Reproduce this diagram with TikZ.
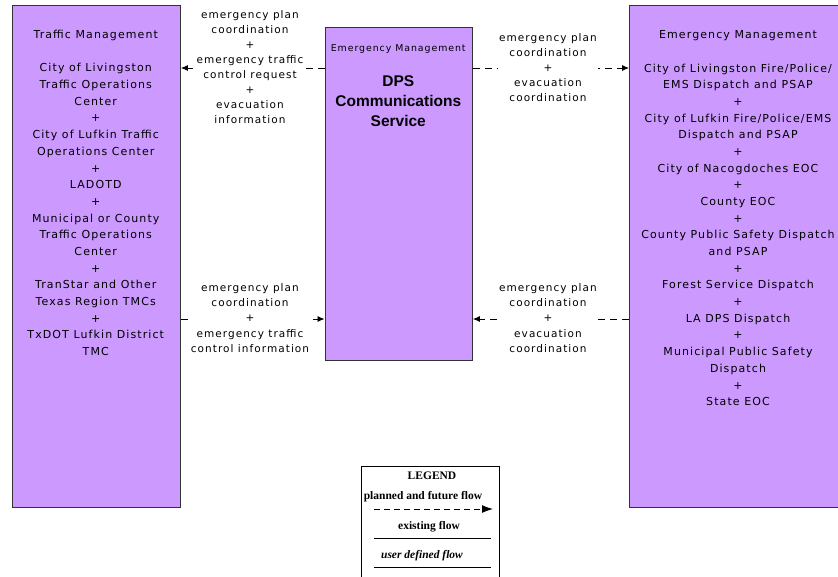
\documentclass[tikz,border=0pt]{standalone}
\usepackage{fontspec}
\setmainfont{DejaVu Sans}[LetterSpace=10]
\newfontfamily\boldsans{Liberation Sans}[FontFace={b}{n}{Liberation Sans Bold}]
\newfontfamily\legfont{Liberation Serif}
\usetikzlibrary{arrows.meta}
\definecolor{boxfill}{HTML}{CC99FF}
\definecolor{boxline}{HTML}{333333}
\begin{document}
\begin{tikzpicture}[x=1pt,y=-1pt,
  box/.style={draw=boxline, fill=boxfill, line width=0.9pt, inner sep=0pt, anchor=north west},
  boxtext/.style={align=center, inner sep=0pt, anchor=north, font=\fontsize{11}{16.68}\selectfont},
  flow/.style={line width=0.8pt, dash pattern=on 7pt off 5pt, -{Latex[length=7pt,width=6pt]}},
  lbl/.style={fill=white, align=center, inner sep=1.5pt, font=\fontsize{10.5}{15.1}\selectfont},
  legtext/.style={font=\legfont\bfseries\fontsize{11.5}{13}\selectfont, inner sep=0pt}]
\useasboundingbox (0,0) rectangle (838,576);
\clip (0,0) rectangle (838,576);
% boxes
\node[box, minimum width=168.5pt, minimum height=502pt] (tm) at (11.5,5) {};
\node[box, minimum width=147.5pt, minimum height=333pt] (em) at (324.5,27) {};
\node[box, minimum width=230pt, minimum height=502pt] (ems) at (629,5) {};
% texts
\node[boxtext] (tmt) at (95.75,30) {Traffic Management\\[16.68pt]City of Livingston\\Traffic Operations\\Center\\+\\City of Lufkin Traffic\\Operations Center\\+\\LADOTD\\+\\Municipal or County\\Traffic Operations\\Center\\+\\TranStar and Other\\Texas Region TMCs\\+\\TxDOT Lufkin District\\TMC};
\node[boxtext] (emst) at (738,30.5) {Emergency Management\\[16.68pt]City of Livingston Fire/Police/\\EMS Dispatch and PSAP\\+\\City of Lufkin Fire/Police/EMS\\Dispatch and PSAP\\+\\City of Nacogdoches EOC\\+\\County EOC\\+\\County Public Safety Dispatch\\and PSAP\\+\\Forest Service Dispatch\\+\\LA DPS Dispatch\\+\\Municipal Public Safety\\Dispatch\\+\\State EOC};
\node[inner sep=0pt, font=\fontsize{9.4}{11}\selectfont] (emt1) at (398.25,49.5) {Emergency Management};
\node[inner sep=0pt, align=center, font=\boldsans\bfseries\fontsize{15.5}{20}\selectfont] (emt2) at (398.25,101) {DPS\\Communications\\Service};
% flows
\draw[flow] (em.west |- 0,68) -- (tm.east |- 0,68);
\draw[flow] (em.east |- 0,68) -- (ems.west |- 0,68);
\draw[flow] (tm.east |- 0,319) -- (em.west |- 0,319);
\draw[flow] (ems.west |- 0,319) -- (em.east |- 0,319);
% labels
\node[lbl] (l1) at (250,67) {emergency plan\\coordination\\+\\emergency traffic\\control request\\+\\evacuation\\information};
\node[lbl] (l2) at (548,67.5) {emergency plan\\coordination\\+\\evacuation\\coordination};
\node[lbl] (l3) at (250,318) {emergency plan\\coordination\\+\\emergency traffic\\control information};
\node[lbl] (l4) at (548,318) {emergency plan\\coordination\\+\\evacuation\\coordination};
% legend
\node[draw=black, line width=0.8pt, inner sep=0pt, anchor=north west, minimum width=138pt, minimum height=130pt] (leg) at (360.5,466) {};
\node[legtext] (legt) at (432,476) {LEGEND};
\node[legtext] (leg1) at (423,497) {planned and future flow};
\coordinate (a1) at (374,509);
\coordinate (a2) at (493,509);
\draw[line width=1pt, dash pattern=on 6pt off 4pt, -{Latex[length=11pt,width=8pt]}] (a1) -- (a2);
\node[legtext] (leg2) at (429,527) {existing flow};
\coordinate (b1) at (374,538);
\coordinate (b2) at (491,538);
\draw[line width=1pt] (b1) -- (b2);
\node[legtext, font=\legfont\bfseries\itshape\fontsize{11.5}{13}\selectfont] (leg3) at (422,556) {user defined flow};
\coordinate (c1) at (374,567);
\coordinate (c2) at (491,567);
\draw[line width=1pt] (c1) -- (c2);
\end{tikzpicture}
\end{document}
